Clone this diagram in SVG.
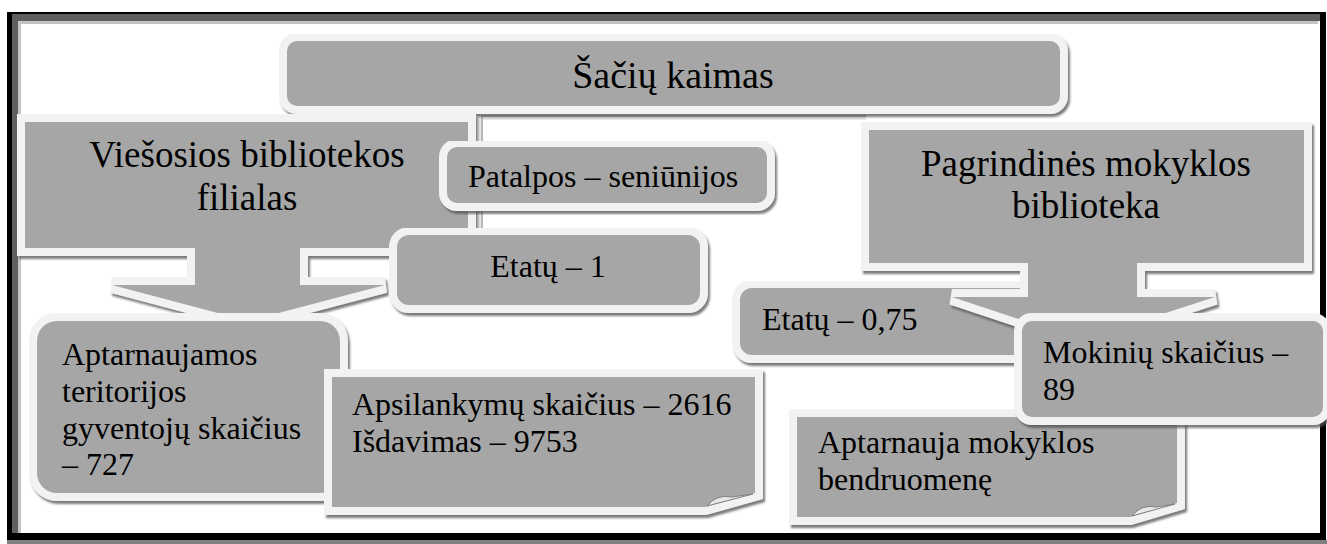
<svg xmlns="http://www.w3.org/2000/svg" width="1327" height="544" viewBox="0 0 1327 544">
<defs>
<filter id="sh" x="-10%" y="-10%" width="120%" height="130%">
<feDropShadow dx="2" dy="3" stdDeviation="0.8" flood-color="#505050" flood-opacity="0.75"/>
</filter>
<style>
.box{fill:#a6a6a6;stroke:#f2f2f2;stroke-width:16;paint-order:stroke;stroke-linejoin:miter;stroke-miterlimit:6;filter:url(#sh)}
.t{font-family:"Liberation Serif","Times New Roman",serif;font-size:32px;fill:#000}
.big{font-size:37px}
.title{font-family:"Liberation Serif","Times New Roman",serif;font-size:38px;fill:#000}
.curl{fill:#e8e8e8;stroke:#7f7f7f;stroke-width:1}
</style>
</defs>
<rect width="1327" height="544" fill="#fff"/>
<g id="frame">
<rect x="7" y="12" width="1319" height="528" fill="#000"/>
<rect x="7" y="540" width="1320" height="4" fill="#808080"/>
<rect x="12" y="14" width="1308" height="519" fill="#fff"/>
<path d="M12,14 H1320 V21 H18 V533 H12 Z" fill="#5f5f5f"/>
<path d="M18,21 H1318 V24 H21 V533 H18 Z" fill="#c4c4c4"/>
</g>
<g id="backdrop" fill="none">
<path d="M480.5,240 V117.5 H866" stroke="#e6e6e6" stroke-width="5"/>
<path d="M482,240 V116 H866" stroke="#a8a8a8" stroke-width="1.5"/>
</g>
<g id="n-title">
<rect class="box" x="287" y="41" width="773" height="65" rx="10"/>
<text class="title" x="673" y="88" text-anchor="middle">Šačių kaimas</text>
</g>
<g id="n-viesosios">
<path class="box" d="M25,122 H468 V248 H300 V285 H385 L248,321 L112,285 H195 V248 H25 Z"/>
<text class="t big" x="247" y="167" text-anchor="middle">Viešosios bibliotekos</text>
<text class="t big" x="247" y="210" text-anchor="middle">filialas</text>
</g>
<g id="n-patalpos">
<rect class="box" x="447" y="147" width="320" height="56" rx="10"/>
<text class="t" x="468" y="187">Patalpos – seniūnijos</text>
</g>
<g id="n-etatu1">
<rect class="box" x="397" y="235" width="303" height="70" rx="12"/>
<text class="t" x="548" y="277" text-anchor="middle">Etatų – 1</text>
</g>
<g id="n-aptarnaujamos">
<rect class="box" x="37" y="321" width="303" height="172" rx="20"/>
<text class="t" x="62" y="365">Aptarnaujamos</text>
<text class="t" x="62" y="402">teritorijos</text>
<text class="t" x="62" y="439">gyventojų skaičius</text>
<text class="t" x="62" y="475">– 727</text>
</g>
<g id="n-apsilankymu">
<path class="box" d="M332,377 H755 V493 L705,507 H332 Z"/>
<path class="curl" d="M707,506 Q716,494 732,497 L753,494 Z"/>
<text class="t" x="352" y="415">Apsilankymų skaičius – 2616</text>
<text class="t" x="352" y="452">Išdavimas – 9753</text>
</g>
<g id="n-etatu075">
<rect class="box" x="740" y="288" width="320" height="67" rx="12"/>
<text class="t" x="762" y="330">Etatų – 0,75</text>
</g>
<g id="n-pagrindines">
<path class="box" d="M869,130 H1304 V263 H1137 V297 H1215 L1082,340 L952,297 H1028 V263 H869 Z"/>
<text class="t big" x="1086" y="176" text-anchor="middle">Pagrindinės mokyklos</text>
<text class="t big" x="1086" y="218" text-anchor="middle">biblioteka</text>
</g>
<g id="n-aptarnauja">
<path class="box" d="M797,417 H1177 V503 L1130,517 H797 Z"/>
<path class="curl" d="M1132,516 Q1141,504 1156,507 L1175,504 Z"/>
<text class="t" x="818" y="453">Aptarnauja mokyklos</text>
<text class="t" x="818" y="490">bendruomenę</text>
</g>
<g id="n-mokiniu">
<rect class="box" x="1022" y="321" width="301" height="96" rx="10"/>
<text class="t" x="1043" y="363">Mokinių skaičius –</text>
<text class="t" x="1043" y="400">89</text>
</g>
<g id="connectors"></g>
</svg>
